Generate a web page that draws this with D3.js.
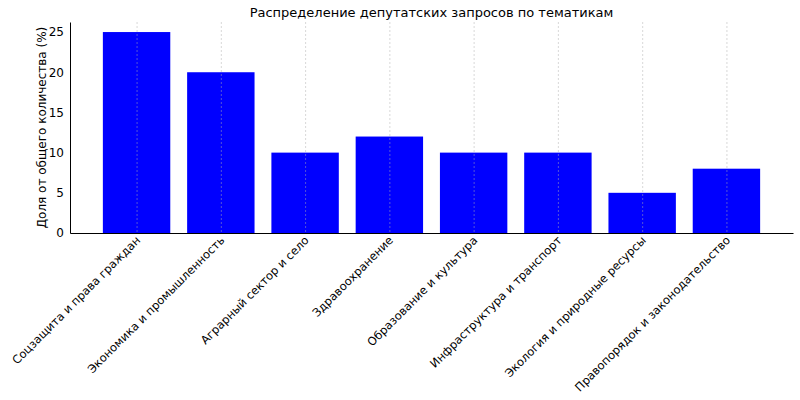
<!DOCTYPE html>
<html>
<head>
<meta charset="utf-8">
<script src="https://cdn.jsdelivr.net/npm/d3@7"></script>
<style>
  body { margin: 0; background: #fff; }
  text { font-family: "DejaVu Sans", sans-serif; }
</style>
</head>
<body>
<div id="chart"></div>
<script>
// chart data
var categories = [
    "Соцзащита и права граждан",
    "Экономика и промышленность",
    "Аграрный сектор и село",
    "Здравоохранение",
    "Образование и культура",
    "Инфраструктура и транспорт",
    "Экология и природные ресурсы",
    "Правопорядок и законодательство"
]
var shares = [25, 20, 10, 12, 10, 10, 5, 8]
var yTicks = [0, 5, 10, 15, 20, 25]

var svgSize = { width: 800, height: 400 }
var margin = { top: 22, bottom: 167, left: 70, right: 7 }
var chartSize = {
    width: svgSize.width - margin.left - margin.right,
    height: svgSize.height - margin.top - margin.bottom
}

var svg = d3.select("#chart").append("svg")
            .attr("width", svgSize.width)
            .attr("height", svgSize.height)

var frame = svg.append("g")
            .attr("transform", `translate(${margin.left}, ${margin.top})`)

// linear x like matplotlib bar positions: -0.4..7.4 plus 5% margins
var n = categories.length
var pad = (n - 0.2) * 0.05
var xScale = d3.scaleLinear()
            .domain([-0.4 - pad, n - 1 + 0.4 + pad])
            .range([0, chartSize.width])

var yScale = d3.scaleLinear()
            .domain([0, 25 * 1.05])
            .range([chartSize.height, 0])

// bars
frame.append("g").selectAll("rect").data(shares)
    .enter().append("rect")
    .attr("x", (d, i) => xScale(i - 0.4))
    .attr("width", xScale(0.8) - xScale(0))
    .attr("y", d => yScale(d))
    .attr("height", d => yScale(0) - yScale(d))
    .attr("fill", "#0000ff")

// vertical grid on top of bars
frame.append("g").selectAll("line").data(categories)
    .enter().append("line")
    .attr("x1", (d, i) => xScale(i) + 0.5)
    .attr("x2", (d, i) => xScale(i) + 0.5)
    .attr("y1", 0)
    .attr("y2", chartSize.height)
    .attr("stroke", "#b0b0b0")
    .attr("stroke-width", 0.8)
    .attr("stroke-dasharray", "2,2")
    .attr("opacity", 0.6)

// axes
var leftAxis = d3.axisLeft(yScale).tickValues(yTicks).tickSize(0).tickPadding(6)
var gy = frame.append("g").call(leftAxis)
gy.select(".domain").attr("stroke", "#000")
gy.selectAll("text").attr("font-size", 12).attr("fill", "#000")
    .style("font-family", "DejaVu Sans, sans-serif")

var bottomAxis = d3.axisBottom(xScale)
        .tickValues(d3.range(n))
        .tickFormat(i => categories[i])
        .tickSize(0)
var gx = frame.append("g")
        .attr("transform", `translate(0, ${chartSize.height})`)
        .call(bottomAxis)
gx.select(".domain").attr("stroke", "#000")
gx.selectAll("text")
    .attr("font-size", 11.5)
    .attr("fill", "#000")
    .style("font-family", "DejaVu Sans, sans-serif")
    .attr("text-anchor", "end")
    .attr("dy", 0)
    .attr("y", 0)
    .attr("transform", "translate(4, 8) rotate(-45)")

// y label
svg.append("text")
    .attr("transform", `translate(46, ${margin.top + chartSize.height / 2}) rotate(-90)`)
    .attr("text-anchor", "middle")
    .attr("font-size", 12)
    .text("Доля от общего количества (%)")

// title
svg.append("text")
    .attr("x", margin.left + chartSize.width / 2)
    .attr("y", 17)
    .attr("text-anchor", "middle")
    .attr("font-size", 13)
    .text("Распределение депутатских запросов по тематикам")
</script>
</body>
</html>
